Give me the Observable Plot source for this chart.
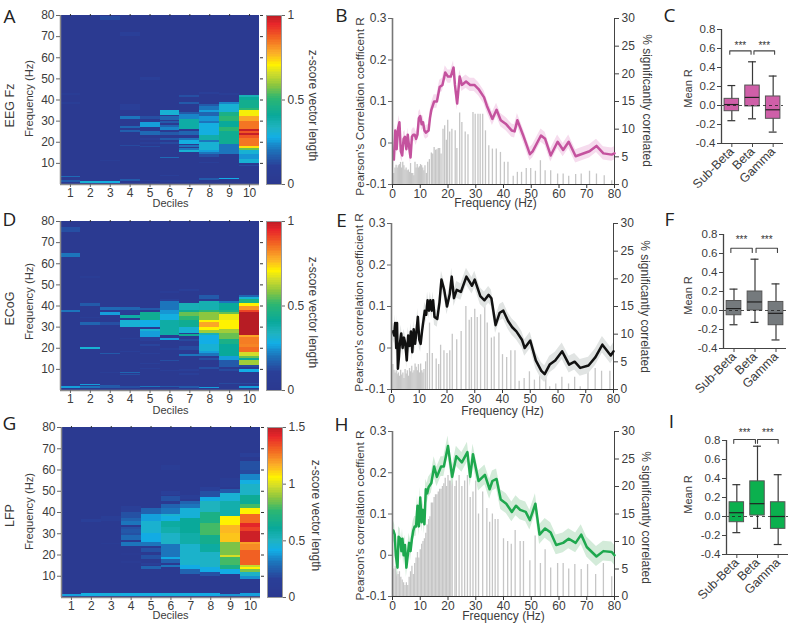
<!DOCTYPE html>
<html><head><meta charset="utf-8">
<script src="https://cdn.jsdelivr.net/npm/d3@7"></script>
<script src="https://cdn.jsdelivr.net/npm/@observablehq/plot@0.6"></script>
<style>
html,body{margin:0;padding:0;background:#fff;overflow:hidden}
#root{position:relative;width:793px;height:626px;overflow:hidden}
#root svg{position:absolute;max-width:none;font-family:"Liberation Sans",Arial,sans-serif !important}
</style></head><body><div id="root"></div>
<script>
const deciles=[1,2,3,4,5,6,7,8,9,10];
const categories=["Sub-Beta","Beta","Gamma"];
const freqTicks=[10,20,30,40,50,60,70,80];
const freqAxisTicks=[0,10,20,30,40,50,60,70,80];
const corrTicks=[-0.1,0,0.1,0.2,0.3];
const pctTicks=[0,5,10,15,20,25,30];
const meanTicks=[-0.4,-0.2,0,0.2,0.4,0.6,0.8];

// heatmap bands: [decile, freq from, freq to, z-score vector length]
const heatA=[
[1,1,2,.15],[1,3.5,4,.18],[1,38,39,.08],[1,42,43,.06],
[2,.5,1.2,.3],[3,.5,1.2,.28],[3,11,11.5,.08],[3,77.5,79.5,.12],
[4,1.5,2.5,.15],[4,18,18.5,.12],[4,24.5,25.5,.16],[4,26.5,27.5,.17],[4,31,32,.2],[4,35,38,.1],[4,70,72,.1],
[5,1.5,2,.1],[5,17.5,18,.12],[5,19,20,.1],[5,21,22,.1],[5,23,25,.18],[5,27,29.5,.25],[5,31,32,.13],[5,49,50.5,.1],
[6,1,2,.1],[6,3.8,4.2,.1],[6,12.5,13,.18],[6,19,20,.12],[6,21,22,.15],[6,23,24.5,.15],[6,25.5,27,.22],[6,27,28,.17],[6,29,30,.15],[6,30.5,32,.17],[6,32.5,35,.3],
[7,1,2,.1],[7,15,16,.3],[7,16,17,.2],[7,17.5,18.5,.2],[7,19,21,.28],[7,21,22,.2],[7,23,25,.17],[7,26,31,.38],[7,31,33,.22],[7,33,34,.15],[7,38,39,.15],[7,41,42,.13],
[8,2,3,.15],[8,10,10.5,.1],[8,13,14,.13],[8,14,15,.2],[8,15,16,.25],[8,16,20,.3],[8,20,21,.2],[8,21,23,.37],[8,23,29,.28],[8,29,30,.2],[8,30,32,.24],[8,32,34,.17],[8,34,35,.25],[8,35,37,.2],[8,37,38,.15],[8,42.5,43.5,.1],
[9,2.5,3,.27],[9,14,15,.2],[9,15,19,.2],[9,19,25,.42],[9,25,27,.5],[9,27,30,.4],[9,30,32,.5],[9,32,34,.45],[9,34,38,.3],[9,38,39,.22],[9,42,43,.08],
[10,8.5,9,.12],[10,10,12,.3],[10,12,14,.24],[10,14,16,.3],[10,16,17,.55],[10,17,18,.72],[10,18,22,.84],[10,22,23,.88],[10,23,24,.98],[10,24,25,.88],[10,25,26,.98],[10,26,30,.84],[10,30,32,.78],[10,32,35,.69],[10,35,36,.5],[10,36,40,.43],[10,40,41,.4],[10,41,42,.35]];
const heatD=[
[1,.8,2,.25],[1,37,38,.2],[1,63,65,.2],[1,75,77,.13],
[2,1,2,.2],[2,2.5,3,.25],[2,19.5,20.5,.3],[2,31,32,.17],[2,34,34.5,.08],[2,40,41,.15],[2,53,54,.06],
[3,1,2.5,.15],[3,8,8.5,.08],[3,17,17.5,.15],[3,31,32,.13],[3,35.5,37,.25],[3,38,39.5,.18],
[4,1,2,.13],[4,7,7.5,.13],[4,8,8.5,.17],[4,18,18.5,.1],[4,24,24.5,.08],[4,30,33,.3],[4,34,35.5,.38],[4,36,38,.08],[4,38,39.5,.17],
[5,1.5,2,.2],[5,10,10.5,.1],[5,12.5,13,.1],[5,17,17.5,.1],[5,21,22,.11],[5,23,25,.1],[5,25,28,.25],[5,28,29,.3],[5,30,33,.27],[5,33,37,.42],[5,38,39,.15],
[6,1.5,2,.15],[6,9,9.5,.1],[6,13.5,14,.13],[6,19,20,.1],[6,23.5,24.5,.25],[6,26,33,.38],[6,33,36,.28],[6,36,38,.24],[6,38,42,.2],[6,42,43,.1],[6,46,47,.07],
[7,1,2,.15],[7,7,8,.1],[7,9,10,.1],[7,16,17,.2],[7,19,21,.12],[7,23,24,.12],[7,25.5,26.5,.42],[7,27,30,.3],[7,30,33,.42],[7,33,35,.5],[7,35,37,.55],[7,37,38,.42],[7,38,41,.35],[7,47,48,.1],
[8,1,1.5,.25],[8,10,11,.13],[8,14,15,.13],[8,16,17.5,.2],[8,17.5,18.5,.25],[8,18.5,22,.3],[8,22,26,.27],[8,26,27,.35],[8,27,28.5,.6],[8,28.5,30,.7],[8,30,32,.78],[8,32,33,.7],[8,33,37,.58],[8,37,38,.5],[8,38,42,.36],[8,43,45,.15],
[9,3,3.5,.12],[9,9,10,.12],[9,11,14,.15],[9,14,16,.25],[9,16,22,.4],[9,22,24,.45],[9,24,27,.55],[9,27,29,.6],[9,29,33,.7],[9,33,36,.68],[9,36,37,.55],[9,37,38,.45],[9,38,41,.4],[9,41,42,.2],
[10,1,2,.25],[10,3,3.5,.12],[10,8.5,10,.27],[10,11,12,.12],[10,12,14,.6],[10,14,15,.4],[10,15,16,.55],[10,16,18,.65],[10,18,20.5,.85],[10,20.5,22,.82],[10,22,25,.83],[10,25,26,.78],[10,26,37,1],[10,37,38,.9],[10,38,40,.8],[10,40,41,.7],[10,41,43,.45],[10,43,44,.3],[10,44,45,.17]];
const heatG=[
[1,.5,1.2,.38],
[2,.5,1.8,.42],[2,35.5,36.5,.15],[3,.5,1.9,.43],[3,25,25.5,.08],[3,36,38,.12],
[4,.5,1.8,.42],[4,16,17,.07],[4,20,20.5,.06],[4,24,26,.3],[4,27,29,.27],[4,29,30,.2],[4,30,32,.22],[4,32,33,.2],[4,34,36,.3],[4,36,37,.25],[4,37,40,.2],[4,40,43,.14],
[5,.5,1.8,.42],[5,13,14.5,.25],[5,15,16,.15],[5,18,20,.2],[5,21,23,.2],[5,24,26,.3],[5,26,30,.4],[5,30,36,.46],[5,36,39,.38],[5,39,42,.25],
[6,.5,1.9,.43],[6,14,15,.3],[6,16,18,.25],[6,18,19,.4],[6,19,22,.3],[6,22,25,.3],[6,25,30,.48],[6,30,33,.55],[6,33,36,.58],[6,36,38,.42],[6,38,39,.46],[6,39,42,.3],[6,42,44,.25],[6,45,47.5,.2],[6,48,50,.15],[6,60,62,.1],
[7,.5,1.8,.42],[7,11,13,.25],[7,13,15,.4],[7,15,25,.47],[7,25,30,.56],[7,30,37,.6],[7,37,42,.44],[7,42,44,.3],[7,44,45,.25],[7,46,48,.12],
[8,.5,1.8,.4],[8,10,12,.2],[8,12,14,.4],[8,14,21,.48],[8,21,25,.58],[8,25,29,.65],[8,29,35,.78],[8,35,40,.68],[8,40,45,.5],[8,45,47,.4],[8,47,50,.2],[8,50,52,.15],
[9,.5,1.6,.36],[9,11,13,.4],[9,13,15,.68],[9,15,19,.78],[9,19,20,.98],[9,20,26,.85],[9,26,30,1.12],[9,30,34,1.14],[9,34,38,1.05],[9,38,42,.55],[9,42,45,.55],[9,45,49,.45],[9,49,51,.22],[9,52,56,.1],
[10,.5,1.8,.38],[10,8.5,10,.35],[10,10,12,.48],[10,12,13,.85],[10,13,14,1.05],[10,14,15,.95],[10,15,22,1.3],[10,22,25,1.22],[10,25,26,1.18],[10,26,31,1.46],[10,31,33,1.36],[10,33,35,1.42],[10,35,39,1.28],[10,39,42,1.05],[10,42,44,.78],[10,44,48,.62],[10,48,53,.48],[10,53,55,.42],[10,55,58,.33],[10,58,60,.18],[10,60,64,.2],[10,66,68,.15]];

// correlation lines: [frequency, Pearson R]
const lineB=[[.5,-.04],[1,.03],[1.5,-.015],[2,.035],[2.5,.05],[3,-.02],[3.5,-.03],[4,.01],[4.5,.015],[5,-.015],[5.5,.02],[6,-.01],[6.5,-.035],[7,.015],[7.5,.02],[8,.02],[8.5,.01],[9,.02],[9.5,.06],[10,.065],[10.5,.045],[11,.05],[11.5,.03],[12,.025],[13,.03],[13.5,.06],[14,.08],[15,.1],[16,.1],[17,.135],[18,.14],[19,.17],[20,.16],[21,.16],[22,.182],[22.5,.14],[23.3,.095],[24.2,.16],[25,.14],[26.5,.148],[28,.14],[29.5,.14],[31,.13],[33,.11],[34,.09],[36,.058],[37.5,.08],[39,.055],[41,.045],[43,.03],[44,.028],[45,.055],[47,.02],[49.5,-.027],[50.5,-.02],[53.5,.018],[55,.01],[57,-.03],[59.5,.003],[61.5,-.017],[63.5,.003],[66,-.032],[71,-.02],[73.5,-.007],[76,-.025],[79,-.028],[80,-.025]];
const lineE=[[.5,.04],[1,.03],[1.3,.06],[1.7,0],[2,.06],[2.3,-.05],[2.7,-.02],[3,.01],[3.5,.035],[4,0],[4.5,.025],[5,.01],[5.5,-.03],[6,.03],[6.5,.005],[7,.04],[7.5,-.01],[8,.045],[8.5,.01],[9,.04],[9.5,.075],[10,.02],[10.5,.01],[11,.04],[12,.09],[12.5,.08],[13,.115],[13.5,.09],[14,.115],[14.5,.09],[15,.115],[15.5,.075],[16.5,.07],[17.3,.11],[18,.165],[19,.14],[20,.1],[21,.13],[21.7,.172],[22.5,.12],[23.5,.14],[25,.135],[27,.172],[29,.15],[30,.165],[32,.125],[33.5,.115],[35,.128],[36,.12],[37.5,.055],[39,.085],[40.3,.09],[42,.065],[43.5,.05],[45,.04],[47,.02],[48,0],[50,.018],[52,-.03],[54,-.055],[55.2,-.063],[57,-.04],[59,-.03],[61.5,-.008],[64,-.04],[66,-.033],[68,-.048],[71,-.042],[73.5,-.022],[76,.008],[79,-.018],[80,-.008]];
const lineH=[[.3,.06],[.8,.05],[1.2,0],[1.8,-.03],[2.2,.045],[2.8,.04],[3.2,.01],[3.6,.04],[4,0],[4.5,.025],[5,-.03],[5.5,0],[6,.03],[6.5,.01],[7,.04],[7.5,.06],[8,.07],[8.5,.07],[9,.12],[9.5,.07],[10,.14],[10.5,.08],[11,.11],[11.5,.075],[12,.16],[12.5,.15],[13,.165],[14,.175],[15,.215],[16,.19],[17.5,.215],[18.5,.215],[20,.265],[21.5,.19],[23,.24],[25,.225],[27,.25],[28,.19],[29,.245],[31,.18],[33.3,.195],[35,.16],[36,.18],[37.5,.185],[39,.135],[41,.125],[43,.105],[44.5,.12],[46,.11],[48,.105],[49.5,.085],[51.5,.125],[53,.05],[55,.065],[57,.055],[59,.025],[61.5,.03],[63.5,.04],[66,.03],[68,.05],[70,.02],[73.5,-.003],[76,.01],[79,.008],[80,0]];

// percentage significantly correlated: [frequency, %]
const barsB=[[.5,2],[.9,3],[1.3,3.5],[1.7,3],[2.1,3.4],[2.5,3.6],[2.9,4],[3.3,3],[3.7,4],[4.1,3.4],[4.5,2.6],[4.9,3],[5.3,2.5],[5.7,2.6],[6.1,2.2],[6.5,3.8],[6.9,2],[7.3,2],[7.7,1.6],[8.1,4],[8.5,3],[8.9,3.6],[9.3,3],[9.7,3.2],[10.1,3.6],[10.5,3.4],[10.9,3],[11.3,2.5],[11.7,3.4],[12.2,2],[12.7,4],[13.3,4.5],[14,5.7],[14.5,5.5],[15,6.7],[15.5,6.2],[16,6.3],[16.5,6.5],[17,6.5],[17.5,5.5],[18.2,10],[18.8,10.6],[19.4,8],[19.9,11.6],[20.6,9.5],[21.4,10],[22.6,9.7],[23.2,6.5],[24.2,12.9],[25,11.2],[26.2,9.5],[27.2,9],[29,13],[29.8,12.7],[30.8,12.7],[31.6,12.7],[32.5,12.7],[33.5,9.7],[34.7,7],[36,6.4],[37.4,6.4],[38.9,5.8],[40.3,4],[41.6,4],[43.5,1.5],[45,2.2],[46.5,2.2],[48.2,2.9],[49.8,2.9],[51.5,2.4],[53.3,4.3],[55,2.5],[57,2.5],[59.5,1.9],[61.5,1.9],[63.5,1.5],[66,1.8],[68,1.9],[71,2.4],[73.5,1.9],[76.3,1.6],[79,.7]];
const barsE=[[.5,4.5],[.9,3.5],[1.3,3],[1.7,3.4],[2.1,2.8],[2.5,3],[2.9,2.4],[3.3,3.5],[3.7,2.6],[4.1,3],[4.5,2],[4.9,3.6],[5.3,2.8],[5.7,3.4],[6.1,2.4],[6.5,3.8],[6.9,3.2],[7.3,4.2],[7.7,3],[8.1,3.4],[8.5,4.6],[8.9,4],[9.3,3.4],[9.7,4.5],[10.1,3],[10.5,4.6],[10.9,3.4],[11.3,3],[11.7,3.6],[12.3,5],[12.9,6.5],[13.7,12],[14.7,6.5],[16.1,5.5],[17,4.5],[17.7,8],[18.9,7],[20,6.5],[21,7],[21.9,10],[23.5,9],[25.1,10.5],[26.8,15],[28,12.5],[28.8,13],[30,14.5],[30.9,13],[32.1,13.5],[33.6,15],[34.5,12],[36,9.3],[37,9.5],[38.7,10.2],[40,6.3],[41.5,5.8],[43,7],[44.5,7],[46,1.5],[47.8,2],[49.7,3.2],[51.5,1.7],[53.4,2.7],[55.6,2.7],[57,.5],[59.2,1],[61.4,2.2],[63.8,1],[66,2.2],[68,.5],[70.8,3.7],[73.4,3.8],[75.7,3.3],[78.7,3.3]];
const barsH=[[.5,5],[1,5.5],[1.5,4.5],[2,4],[2.5,4.5],[3,3.5],[3.5,3],[4,2.5],[4.5,2],[5,2.5],[5.5,2],[6,3.5],[6.5,4.5],[7,5.5],[7.5,4],[8,6],[8.5,7],[9,8],[9.5,7],[10,8.5],[10.5,9.5],[11,10],[11.5,10.5],[12,11.5],[12.5,13],[13,14],[13.5,14.5],[14,17],[14.5,17],[15,18],[15.5,18.5],[16,18.5],[16.5,19],[17,19.5],[17.5,19.5],[18,20],[18.5,20.5],[19,21.5],[19.5,20],[20,22],[20.5,21],[21,21],[21.5,23],[22.5,20],[23,21],[24,22],[25,20],[26,21],[27,22],[28,18],[29,19],[30,21],[31,15],[32.5,19],[34,16],[35,13.5],[36,15],[37,14],[38,14],[40,10.5],[41.5,10],[42.8,9.5],[44.2,12],[46,10],[47.2,10],[49.5,6.5],[51.4,11],[53.3,6],[55,8.5],[57,5.2],[59.5,6],[61.5,6],[63.5,5],[65.7,5.8],[68,4.9],[70.3,5.8],[73.2,4],[76,6],[79,3.6]];

// box plots: [whisker low, quartile 1, median, quartile 3, whisker high]
const boxC=[[-.16,-.06,.01,.07,.21],[-.14,-.01,.085,.21,.46],[-.28,-.14,-.045,.095,.31]];
const boxF=[[-.15,-.05,.02,.1,.225],[-.125,0,.09,.2,.54],[-.31,-.155,-.03,.09,.28]];
const boxI=[[-.17,-.06,.04,.15,.335],[-.125,.01,.135,.37,.74],[-.295,-.13,0,.15,.44]];

// jet-like colormap
const mapStops=[0,.1,.2,.27,.33,.4,.5,.58,.65,.7,.77,.86,.94,1];
const mapColors=["#2b3990","#2a3f98","#1c75bc","#12aee6","#1fb3c0","#09a99a","#2bb673","#8cc63f","#d2dd2a","#fff200","#fbae28","#f26522","#e8262a","#b71c24"];
const colorLevels=d3.range(0,1,0.01);

const FONT="'Liberation Sans',Arial,sans-serif", INK="#3c3c3c", AXIS="#666";
const noText=()=>"";
const root=document.getElementById("root");
function place(svg,x,y){svg.style.left=x+"px";svg.style.top=y+"px";root.append(svg);}
function panel(b,opts,extra){
  const m={l:40,r:40,t:10,b:60};
  const svg=Plot.plot({width:b.r-b.l+m.l+m.r,height:b.b-b.t+m.t+m.b,marginLeft:m.l,marginRight:m.r,marginTop:m.t,marginBottom:m.b,
    style:{background:"transparent",fontFamily:FONT,color:INK,overflow:"visible",...extra},...opts});
  place(svg,b.l-m.l,b.t-m.t);
}
function colorScale(max){return {type:"linear",domain:mapStops.map(s=>s*max),range:mapColors,clamp:true};}

function heat(b,cb,bands,max,barTicks){
  const base=deciles.map(d=>[d,0,80,max*.015]);
  panel(b,{x:{domain:[.5,10.5],axis:null},y:{domain:[0,80],axis:null},color:colorScale(max),marks:[
    Plot.rect(base.concat(bands),{x1:d=>d[0]-.5,x2:d=>d[0]+.5,y1:d=>d[1],y2:d=>d[2],fill:d=>d[3],shapeRendering:"crispEdges"})
  ]},{filter:"blur(0.6px)"});
  panel(b,{x:{domain:[.5,10.5],axis:null},y:{domain:[0,80],axis:null},marks:[
    Plot.ruleX([.5],{stroke:"#8a8a8a",strokeWidth:1.5}),
    Plot.ruleY([0],{stroke:"#8a8a8a",strokeWidth:1.5}),
    Plot.axisY({anchor:"left",ticks:freqTicks,tickSize:4,tickPadding:2,fontSize:12,label:null,stroke:AXIS}),
    Plot.axisY({anchor:"right",ticks:freqTicks,tickSize:3,tickFormat:noText,label:null,stroke:"#333"}),
    Plot.axisX({anchor:"bottom",ticks:deciles,tickSize:3,tickPadding:1,fontSize:12,label:null,stroke:AXIS}),
    Plot.axisX({anchor:"top",ticks:deciles,tickSize:2,tickFormat:noText,label:null,stroke:"#333"})
  ]});
  panel(cb,{x:{domain:[0,1],axis:null},y:{domain:[0,max],axis:null},color:colorScale(max),marks:[
    Plot.rect(colorLevels,{x1:()=>0,x2:()=>1,y1:d=>d*max,y2:d=>(d+.0101)*max,fill:d=>d*max,shapeRendering:"crispEdges"}),
    Plot.frame({stroke:"#9a9a9a"}),
    Plot.axisY({anchor:"right",ticks:barTicks,tickSize:3,tickPadding:3,fontSize:12,label:null,stroke:AXIS,
      tickFormat:d=>String(d)})
  ]});
}

function corr(b,line,bars,sem,stroke,band){
  panel(b,{x:{domain:[0,80],axis:null},y:{domain:[0,30],axis:null},marks:[
    Plot.ruleX(bars,{x:d=>d[0],y1:()=>0,y2:d=>d[1],stroke:"#c6c6c6",strokeWidth:1.3}),
    Plot.ruleX([80],{stroke:"#444",strokeWidth:1}),
    Plot.axisY({anchor:"right",ticks:pctTicks,tickSize:4,tickPadding:3,fontSize:12,label:null,stroke:"#444"})
  ]});
  panel(b,{x:{domain:[0,80],axis:null},y:{domain:[-.1,.3],axis:null},marks:[
    Plot.areaY(line,{x:d=>d[0],y1:d=>d[1]-sem,y2:d=>d[1]+sem,fill:band}),
    Plot.line(line,{x:d=>d[0],y:d=>d[1],stroke,strokeWidth:2.5,strokeLinejoin:"round"}),
    Plot.ruleX([0],{stroke:"#777",strokeWidth:1.6}),
    Plot.ruleY([-.1],{stroke:"#333",strokeWidth:1}),
    Plot.axisY({anchor:"left",ticks:corrTicks,tickSize:4,tickPadding:2,fontSize:12,label:null,stroke:AXIS,
      tickFormat:d=>d===0?"0":d.toFixed(1)}),
    Plot.axisX({anchor:"bottom",ticks:freqAxisTicks,tickSize:4,tickPadding:1,fontSize:12,label:null,stroke:"#333"})
  ]});
}

function box(b,stats,fill,br){
  const rows=stats.map((s,i)=>({x:i+1,lo:s[0],q1:s[1],med:s[2],q3:s[3],hi:s[4]}));
  const w=.35, cap=.19;
  const bracket=[[br.x0,br.y1],[br.x0,br.y0],[br.x1,br.y0],[br.x1,br.y1]];
  const bracket2=[[br.x2,br.y1],[br.x2,br.y0],[br.x3,br.y0],[br.x3,br.y1]];
  panel(b,{x:{domain:[.5,3.5],axis:null},y:{domain:[-.4,.8],axis:null},marks:[
    Plot.ruleX(rows,{x:"x",y1:"lo",y2:"hi",stroke:"#3a3a3a",strokeWidth:1.2}),
    Plot.rect(rows,{x1:d=>d.x-w,x2:d=>d.x+w,y1:"q1",y2:"q3",fill,stroke:"#555",strokeWidth:1}),
    Plot.ruleY(rows,{y:"med",x1:d=>d.x-w,x2:d=>d.x+w,stroke:"#222",strokeWidth:1.2}),
    Plot.ruleY(rows,{y:"lo",x1:d=>d.x-cap,x2:d=>d.x+cap,stroke:"#333",strokeWidth:1.2}),
    Plot.ruleY(rows,{y:"hi",x1:d=>d.x-cap,x2:d=>d.x+cap,stroke:"#333",strokeWidth:1.2}),
    Plot.ruleY([0],{stroke:"#222",strokeDasharray:"3,3",strokeWidth:.8}),
    Plot.line(bracket,{x:d=>d[0],y:d=>d[1],stroke:"#444",strokeWidth:1.1}),
    Plot.line(bracket2,{x:d=>d[0],y:d=>d[1],stroke:"#444",strokeWidth:1.1}),
    Plot.text(["***"],{x:()=>(br.x0+br.x1)/2,y:()=>br.star,fontSize:10,fill:"#333",lineAnchor:"middle"}),
    Plot.text(["***"],{x:()=>(br.x2+br.x3)/2,y:()=>br.star,fontSize:10,fill:"#333",lineAnchor:"middle"}),
    Plot.ruleX([.5],{stroke:"#444",strokeWidth:1.3}),
    Plot.ruleY([-.4],{stroke:"#444",strokeWidth:1.1}),
    Plot.axisY({anchor:"left",ticks:meanTicks,tickSize:4,tickPadding:2,fontSize:11.5,label:null,stroke:"#444",tickFormat:d=>d.toFixed(1)}),
    Plot.axisX({anchor:"bottom",ticks:[1,2,3],tickSize:4,tickPadding:2,fontSize:12.5,label:null,stroke:"#444",tickRotate:-45,tickFormat:d=>categories[d-1]})
  ]});
}

heat({l:60,r:259,t:15,b:184},{l:266,r:281,t:15,b:184},heatA,1,[0,.5,1]);
heat({l:60,r:259,t:221,b:390},{l:266,r:281,t:221,b:390},heatD,1,[0,.5,1]);
heat({l:61,r:260,t:427,b:597},{l:267,r:282,t:427,b:597},heatG,1.5,[0,.5,1,1.5]);

corr({l:392,r:614,t:18,b:184},lineB,barsB,.016,"#c4529e","#f6dcee");
corr({l:391,r:613,t:223,b:389},lineE,barsE,.02,"#111111","#e1e4e3");
corr({l:392,r:614,t:431,b:596},lineH,barsH,.024,"#1ea84e","#d3ebd9");

box({l:721,r:783,t:29,b:143},boxC,"#cf5fa8",{x0:.9,x1:1.93,x2:2.07,x3:3.07,y0:.575,y1:.54,star:.63});
box({l:723,r:786,t:234,b:348},boxF,"#757a7d",{x0:.85,x1:1.87,x2:2.05,x3:3.07,y0:.655,y1:.61,star:.74});
box({l:726,r:788,t:440,b:554},boxI,"#0bb04e",{x0:.85,x1:1.9,x2:2,x3:3,y0:.81,y1:.77,star:.88});

// text overlay: panel letters, channel names, axis titles
const letters=[["A",9,16],["B",341,15],["C",669,15],["D",9,219],["E",341,220],["F",669,219],["G",9,423],["H",341,424],["I",671,421]];
const titles=[
["EEG Fz",9,105,-90,12.5],["ECoG",9,308,-90,12.5],["LFP",9,515,-90,12.5],
["Frequency (Hz)",29,98,-90,11.2],["Frequency (Hz)",29,301,-90,11.2],["Frequency (Hz)",29,511,-90,11.2],
["Deciles",170,203,0,11],["Deciles",170,410,0,11],["Deciles",170,615,0,11],
["z-score vector length",312,105,90,12],["z-score vector length",312,312,90,12],["z-score vector length",315,515,90,12],
["Pearson's Correlation coefficent R",360,106,-90,11.8],["Pearson's correlation coefficient R",359,302,-90,11.8],["Pearson's correlation coeffient R",360,515,-90,11.8],
["% significantly correlated",646,100,90,12],["% significantly correlated",644,306,90,12],["% significantly correlated",645,517,90,12],
["Frequency (Hz)",495,203,0,12],["Frequency (Hz)",502,411,0,12],["Frequency (Hz)",503,616,0,12],
["Mean R",688,88,-90,11],["Mean R",688,295,-90,11],["Mean R",688,494,-90,11]];
const overlay=Plot.plot({width:793,height:626,margin:0,x:{domain:[0,793],range:[0,793],axis:null},y:{domain:[0,626],range:[0,626],axis:null},
  style:{background:"transparent",fontFamily:FONT,overflow:"visible",pointerEvents:"none"},marks:[
  Plot.text(titles,{x:d=>d[1],y:d=>d[2],text:d=>d[0],rotate:d=>d[3],fontSize:d=>d[4],fill:INK,textAnchor:"middle",lineAnchor:"middle"}),
  Plot.text(letters,{x:d=>d[1],y:d=>d[2],text:d=>d[0],fontSize:19,fontFamily:"'Open Sans',sans-serif",fill:"#222",textAnchor:"middle",lineAnchor:"middle"})
]});
place(overlay,0,0);
</script></body></html>
